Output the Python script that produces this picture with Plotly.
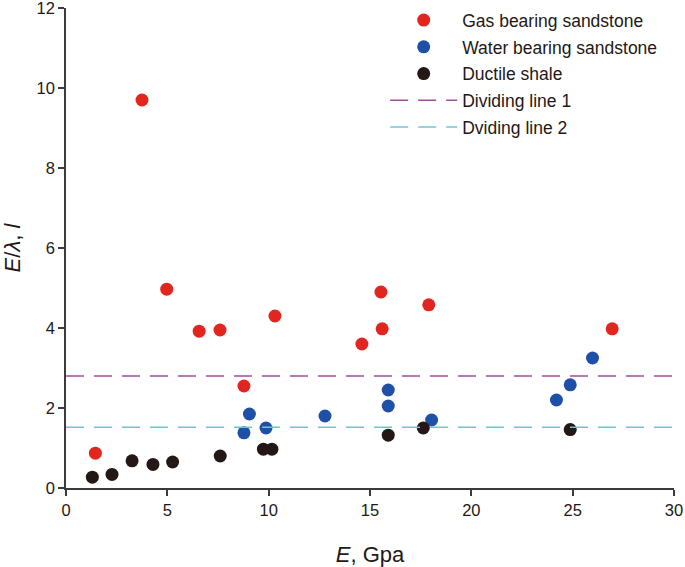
import plotly.graph_objects as go

# Gas bearing sandstone
gas_e = [1.45, 3.75, 4.97, 6.57, 7.6, 8.78, 10.31, 14.6, 15.54, 15.6, 17.9, 26.95]
gas_r = [0.87, 9.7, 4.97, 3.92, 3.95, 2.55, 4.3, 3.6, 4.9, 3.98, 4.58, 3.98]

# Water bearing sandstone
water_e = [8.78, 9.05, 9.87, 12.78, 15.9, 15.9, 18.04, 24.2, 24.88, 25.98]
water_r = [1.38, 1.85, 1.5, 1.8, 2.45, 2.05, 1.7, 2.2, 2.58, 3.25]

# Ductile shale
shale_e = [1.3, 2.27, 3.26, 4.29, 5.26, 7.61, 9.74, 10.16, 15.9, 17.63, 24.88]
shale_r = [0.27, 0.34, 0.68, 0.59, 0.65, 0.8, 0.97, 0.97, 1.32, 1.5, 1.46]

line_x = [0, 30]
line1_y = [2.8, 2.8]
line2_y = [1.52, 1.52]

colors = {
    'gas': '#E2261F',
    'water': '#1F50A8',
    'shale': '#231815',
    'line1': '#A24E9E',
    'line2': '#6DC6D2',
    'axis': '#3E3A39',
}

fig = go.Figure()

for xs, ys, name, key in [
    (gas_e, gas_r, 'Gas bearing sandstone', 'gas'),
    (water_e, water_r, 'Water bearing sandstone', 'water'),
    (shale_e, shale_r, 'Ductile shale', 'shale'),
]:
    fig.add_trace(go.Scatter(x=xs, y=ys, mode='markers', name=name, legendgroup=name,
                             marker=dict(color=colors[key], size=13)))

fig.add_trace(go.Scatter(x=line_x, y=line1_y, mode='lines', name='Dividing line 1',
                         legendgroup='l1',
                         line=dict(color=colors['line1'], width=1.5, dash='18px,10px')))
fig.add_trace(go.Scatter(x=line_x, y=line2_y, mode='lines', name='Dviding line 2',
                         legendgroup='l2',
                         line=dict(color=colors['line2'], width=1.5, dash='18px,10px')))

axis_style = dict(showline=True, linecolor=colors['axis'], linewidth=1.5,
                  ticks='outside', tickcolor=colors['axis'], ticklen=6, tickwidth=1.5,
                  showgrid=False, zeroline=False, automargin=False, ticklabeloverflow='allow',
                  tickfont=dict(size=16.5, color='#231815'))

fig.update_layout(
    width=685, height=567,
    margin=dict(l=66, r=11, t=8, b=79, autoexpand=False),
    plot_bgcolor='white', paper_bgcolor='white',
    font=dict(family='Liberation Sans, Arial, sans-serif', size=16, color='#231815'),
    xaxis=dict(range=[0, 30], dtick=5, title=dict(text='<i>E</i>, Gpa', font=dict(size=22), standoff=29),
               **axis_style),
    yaxis=dict(range=[0, 12], dtick=2, title=dict(text='<i>E</i>/<i>λ</i>, <i>l</i>', font=dict(size=22), standoff=13),
               **axis_style),
    legend=dict(x=0.525, y=1.012, xanchor='left', yanchor='top', bgcolor='rgba(0,0,0,0)',
                itemwidth=67, tracegroupgap=1, font=dict(size=17.5)),
    showlegend=True,
)

# page body has a default 8px margin; drop it so the figure sits at the window corner
fig.write_html("out.html", config={'displayModeBar': False},
               post_script="document.body.style.margin='0px';")
